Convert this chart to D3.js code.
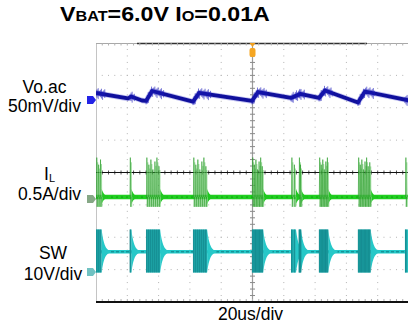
<!DOCTYPE html>
<html>
<head>
<meta charset="utf-8">
<script src="https://cdn.jsdelivr.net/npm/d3@7"></script>
<style>
  html, body { margin: 0; padding: 0; background: #fff; }
  svg { display: block; }
  text { font-family: "Liberation Sans", Arial, sans-serif; fill: #000; }
</style>
</head>
<body>
<svg id="scope" width="408" height="325"></svg>
<script>
// ---- Acquisition settings ----
const timeSpanUs = [0, 200];            // 10 div x 20 us
const timeBaseLabel = "20us/div";
const channelNames = ["Vo.ac", "I", "SW"];
const channelSubscripts = ["", "L", ""];
const channelScaleLabels = ["50mV/div", "0.5A/div", "10V/div"];

// ---- Output ripple (AC coupled), vertices of the trace ----
const voTimeUs     = [0, 20.4, 22.4, 29.4, 32, 35.8, 62, 65.8, 99.7, 103.5, 124.6, 130.4, 142.5, 146.3, 167.4, 171.9, 200];
const voMilliVolts = [10.8, 2.3, 5.4, -0.8, -1.5, 13.9, -2.6, 10.8, -1.5, 12.3, 3.1, 9.3, 3.1, 14.7, -3.9, 13.1, -0.8];

// ---- Switching bursts (pulse-skipping operation) ----
const burstStartUs    = [0, 21.7, 32, 62, 99.7, 124.6, 129.6, 142.5, 167.4, 197.4];
const burstEndUs      = [3.6, 22.6, 41, 71, 106.8, 127.8, 131, 148.4, 175.5, 201];
const burstPulseCount = [3, 1, 7, 7, 7, 2, 2, 6, 8, 2];
const pulseHeightShare = [1, 0.82, 0.95, 0.7, 0.9, 1, 0.78, 0.88];

// ---- Inductor current levels (A) ----
const ilBaseAmp = 0.03, ilPeakAmp = 0.64, ilValleyAmp = -0.12;
// ---- Switch node levels (V) ----
const swBaseVolt = 6.2, swHighVolt = 13.1, swLowVolt = -0.2;

// ---- Screen geometry ----
const X0 = 96, X1 = 409, Y0 = 43, Y1 = 302;
const svg = d3.select("#scope");
const x = d3.scaleLinear().domain(timeSpanUs).range([X0, X1]);
const yDiv = d3.scaleLinear().domain([-4, 4]).range([Y1, Y0]);
const divW = (X1 - X0) / 10, divH = (Y1 - Y0) / 8;

// channel reference positions in divisions from centre
const voRef = 2.24, ilRef = -0.82, swRef = -3.07;
const yVo = d3.scaleLinear().domain([0, 50]).range([yDiv(voRef), yDiv(voRef + 1)]);
const yIl = d3.scaleLinear().domain([0, 0.5]).range([yDiv(ilRef), yDiv(ilRef + 1)]);
const ySw = d3.scaleLinear().domain([0, 10]).range([yDiv(swRef), yDiv(swRef + 1)]);

svg.append("clipPath").attr("id", "screen")
  .append("rect").attr("x", X0).attr("y", Y0).attr("width", X1 - X0).attr("height", Y1 - Y0);

// ---- Graticule ----
const grid = svg.append("g");
const dots = [];
for (let i = 1; i < 10; i++) {
  if (i === 5) continue;
  for (let k = 1; k < 40; k++) dots.push([X0 + i * divW, Y0 + k * divH / 5]);
}
for (let j = 1; j < 8; j++) {
  if (j === 4) continue;
  for (let k = 1; k < 50; k++) dots.push([X0 + k * divW / 5, Y0 + j * divH]);
}
grid.selectAll("rect.dot").data(dots).join("rect")
  .attr("class", "dot")
  .attr("x", d => d[0] - 0.5).attr("y", d => d[1] - 0.5)
  .attr("width", 1).attr("height", 1).attr("fill", "#b4b4b4");

// left border
grid.append("line").attr("x1", X0 + 0.5).attr("x2", X0 + 0.5).attr("y1", Y0).attr("y2", Y1)
  .attr("stroke", "#c4c4c4");
// centre vertical axis with minor ticks
const cx = X0 + 5 * divW;
grid.append("line").attr("x1", cx).attr("x2", cx).attr("y1", Y0).attr("y2", Y1)
  .attr("stroke", "#9a9a9a").attr("stroke-width", 1.2);
const vTicks = d3.range(1, 40).map(k => Y0 + k * divH / 5);
grid.selectAll("line.vt").data(vTicks).join("line").attr("class", "vt")
  .attr("x1", cx - 2.5).attr("x2", cx + 2.5).attr("y1", d => d).attr("y2", d => d)
  .attr("stroke", "#8a8a8a");
// centre horizontal axis with minor ticks
const cy = Y0 + 4 * divH;
const hTicks = d3.range(1, 50).map(k => X0 + k * divW / 5);
grid.selectAll("line.ht").data(hTicks).join("line").attr("class", "ht")
  .attr("x1", d => d).attr("x2", d => d).attr("y1", cy - 2).attr("y2", cy + 2)
  .attr("stroke", "#555");
grid.append("line").attr("x1", X0).attr("x2", X1).attr("y1", cy).attr("y2", cy)
  .attr("stroke", "#111").attr("stroke-width", 1);
// top edge
grid.append("line").attr("x1", X0).attr("x2", X1).attr("y1", Y0 + 0.5).attr("y2", Y0 + 0.5)
  .attr("stroke", "#a8a8a8");
grid.append("line").attr("x1", 137).attr("x2", 367).attr("y1", Y0 + 0.5).attr("y2", Y0 + 0.5)
  .attr("stroke", "#303030").attr("stroke-width", 1.4);
grid.selectAll("line.tt").data(hTicks).join("line").attr("class", "tt")
  .attr("x1", d => d).attr("x2", d => d).attr("y1", Y0).attr("y2", Y0 + 2.5)
  .attr("stroke", "#b0b0b0");
// bottom edge
grid.selectAll("line.bt").data(hTicks).join("line").attr("class", "bt")
  .attr("x1", d => d).attr("x2", d => d).attr("y1", Y1 - 3).attr("y2", Y1)
  .attr("stroke", "#b0b0b0");
grid.append("line").attr("x1", X0).attr("x2", X1).attr("y1", Y1).attr("y2", Y1)
  .attr("stroke", "#111").attr("stroke-width", 2);

// ---- Traces ----
const traces = svg.append("g").attr("clip-path", "url(#screen)");

// burst pulse times
const bursts = burstStartUs.map((s, i) => {
  const e = burstEndUs[i], n = burstPulseCount[i];
  const step = n > 1 ? (e - s) / n : 0;
  return { s, e, pulses: d3.range(n).map(k => s + k * step + (n > 1 ? step * 0.2 : 0)) };
});
const ringUs = 6;   // ringing after the last pulse of a burst

// Vo.ac
const voAt = d3.scaleLinear().domain(voTimeUs).range(voMilliVolts);
const voLine = d3.line().x((d, i) => x(voTimeUs[i])).y(d => yVo(d));
traces.append("path").datum(voMilliVolts).attr("d", voLine)
  .attr("fill", "none").attr("stroke", "#3a3ad0").attr("stroke-width", 5.5)
  .attr("stroke-opacity", 0.3).attr("stroke-linejoin", "round");
traces.append("path").datum(voMilliVolts).attr("d", voLine)
  .attr("fill", "none").attr("stroke", "#10109c").attr("stroke-width", 3.8)
  .attr("stroke-linejoin", "round");
const voNoise = [];
bursts.forEach(b => {
  const ts = d3.range(b.s, b.e + 2.5, 0.7);
  ts.forEach((t, k) => voNoise.push({ t, up: 4 + (k % 3) * 2, dn: 3.5 + ((k + 1) % 4) * 1.8 }));
});
traces.selectAll("line.vn").data(voNoise).join("line").attr("class", "vn")
  .attr("x1", d => x(d.t)).attr("x2", d => x(d.t))
  .attr("y1", d => yVo(voAt(d.t) + d.up)).attr("y2", d => yVo(voAt(d.t) - d.dn))
  .attr("stroke", "#1a1ab8").attr("stroke-width", 0.8).attr("stroke-opacity", 0.75);

// decaying ringing envelope
function ringArea(yScale, base, ampUp, ampDn, t0, tau) {
  const ts = d3.range(0, ringUs + 0.01, 0.25);
  return d3.area()
    .x(d => x(t0 + d))
    .y0(d => yScale(base - ampDn * Math.exp(-d / tau)))
    .y1(d => yScale(base + ampUp * Math.exp(-d / tau)))(ts);
}

// IL
traces.append("line").attr("x1", X0).attr("x2", X1)
  .attr("y1", yIl(ilBaseAmp)).attr("y2", yIl(ilBaseAmp))
  .attr("stroke", "#20d020").attr("stroke-width", 4.5);
traces.append("line").attr("x1", X0).attr("x2", X1)
  .attr("y1", yIl(ilBaseAmp)).attr("y2", yIl(ilBaseAmp))
  .attr("stroke", "#139a13").attr("stroke-width", 1).attr("stroke-dasharray", "2,3");
bursts.forEach(b => {
  traces.append("path").attr("d", ringArea(yIl, ilBaseAmp, 0.13, 0.11, b.e, 1.6))
    .attr("fill", "#1fc81f");
});
const ilPulses = [];
bursts.forEach(b => b.pulses.forEach((t, k) => ilPulses.push({ t, h: pulseHeightShare[k % pulseHeightShare.length] })));
const ilPulsePath = d => {
  const pk = ilBaseAmp + (ilPeakAmp - ilBaseAmp) * d.h;
  return d3.line()([[x(d.t), yIl(ilBaseAmp)], [x(d.t + 0.25), yIl(pk)], [x(d.t + 0.5), yIl(ilValleyAmp)], [x(d.t + 0.7), yIl(ilBaseAmp)]]);
};
traces.selectAll("path.ilp2").data(ilPulses).join("path").attr("class", "ilp2")
  .attr("d", d => ilPulsePath({ t: d.t + 0.6, h: d.h * 0.88 })).attr("fill", "none")
  .attr("stroke", "#8ad88a").attr("stroke-width", 0.7).attr("stroke-opacity", 0.8);
traces.selectAll("path.ilp").data(ilPulses).join("path").attr("class", "ilp")
  .attr("d", ilPulsePath).attr("fill", "none")
  .attr("stroke", "#2a9e2a").attr("stroke-width", 0.8).attr("stroke-opacity", 0.75);

// SW
traces.append("line").attr("x1", X0).attr("x2", X1)
  .attr("y1", ySw(swBaseVolt)).attr("y2", ySw(swBaseVolt))
  .attr("stroke", "#22c8c8").attr("stroke-width", 3.6);
traces.append("line").attr("x1", X0).attr("x2", X1)
  .attr("y1", ySw(swBaseVolt)).attr("y2", ySw(swBaseVolt))
  .attr("stroke", "#127c80").attr("stroke-width", 1).attr("stroke-dasharray", "3,2");
bursts.forEach(b => {
  traces.append("path").attr("d", ringArea(ySw, swBaseVolt, swHighVolt - swBaseVolt, swBaseVolt - swLowVolt, b.e, 1.7))
    .attr("fill", "#26c8c8");
  traces.append("rect").attr("x", x(b.s)).attr("width", Math.max(1.5, x(b.e) - x(b.s)))
    .attr("y", ySw(swHighVolt)).attr("height", ySw(swLowVolt) - ySw(swHighVolt))
    .attr("fill", "#2ccaca");
});
const swEdges = [];
bursts.forEach(b => b.pulses.forEach(t => { swEdges.push(t); swEdges.push(t + 0.5); }));
traces.selectAll("line.swe").data(swEdges).join("line").attr("class", "swe")
  .attr("x1", d => x(d)).attr("x2", d => x(d))
  .attr("y1", ySw(swHighVolt)).attr("y2", ySw(swLowVolt))
  .attr("stroke", "#0d767c").attr("stroke-width", 0.9).attr("stroke-opacity", 0.7);

// ---- Channel reference markers ----
const markerColors = ["#2323e6", "#86a886", "#70c2c2"];
[voRef, ilRef, swRef].forEach((r, i) => {
  const yy = yDiv(r);
  svg.append("path")
    .attr("d", `M87,${yy - 4}H93L96,${yy}L93,${yy + 4}H87Z`)
    .attr("fill", markerColors[i]);
});

// ---- Trigger position marker ----
svg.append("path").attr("d", `M${cx - 3},${Y0}H${cx + 3}L${cx},${Y0 + 4}Z`).attr("fill", "#f0a020");
svg.append("rect").attr("x", cx - 3).attr("y", Y0 + 5).attr("width", 6).attr("height", 9)
  .attr("rx", 2).attr("fill", "#f5a623");

// ---- Labels ----
const title = svg.append("text").attr("x", 60).attr("y", 21)
  .attr("font-weight", "bold").attr("font-size", 20)
  .attr("transform", "translate(60,0) scale(1.16,1) translate(-60,0)");
title.append("tspan").text("V");
title.append("tspan").attr("font-size", 14).text("BAT");
title.append("tspan").text("=6.0V I");
title.append("tspan").attr("font-size", 14).text("O");
title.append("tspan").text("=0.01A");

const labelCenters = [44.5, 49.5, 53];
const labelBase = [93, 180, 259];
const scaleBase = [112, 200, 280];
channelNames.forEach((nm, i) => {
  const t = svg.append("text").attr("x", labelCenters[i]).attr("y", labelBase[i])
    .attr("text-anchor", "middle").attr("font-size", 17.5);
  t.append("tspan").text(nm);
  if (channelSubscripts[i]) t.append("tspan").attr("font-size", 11).attr("dy", 2).text(channelSubscripts[i]);
  svg.append("text").attr("x", labelCenters[i]).attr("y", scaleBase[i])
    .attr("text-anchor", "middle").attr("font-size", 17.5).text(channelScaleLabels[i]);
});
svg.append("text").attr("x", 250.5).attr("y", 320).attr("text-anchor", "middle")
  .attr("font-size", 17.5).text(timeBaseLabel);
</script>
</body>
</html>
